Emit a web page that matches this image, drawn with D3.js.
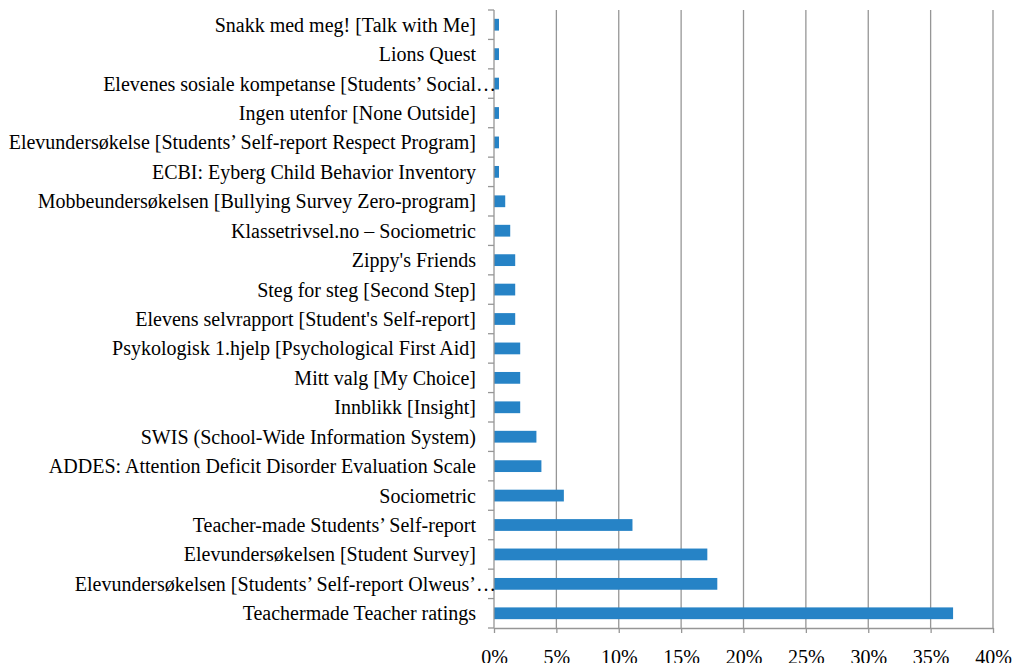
<!DOCTYPE html>
<html>
<head>
<meta charset="utf-8">
<script src="https://cdn.jsdelivr.net/npm/d3@7"></script>
<style>
  body { margin: 0; background: #fff; }
</style>
</head>
<body>
<script>
// categories, top to bottom as in the chart
const programs = [
  'Snakk med meg! [Talk with Me]',
  'Lions Quest',
  'Elevenes sosiale kompetanse [Students\u2019 Social\u2026',
  'Ingen utenfor [None Outside]',
  'Elevundersøkelse [Students\u2019 Self-report Respect Program]',
  'ECBI: Eyberg Child Behavior Inventory',
  'Mobbeundersøkelsen [Bullying Survey Zero-program]',
  'Klassetrivsel.no \u2013 Sociometric',
  "Zippy's Friends",
  'Steg for steg [Second Step]',
  "Elevens selvrapport [Student's Self-report]",
  'Psykologisk 1.hjelp [Psychological First Aid]',
  'Mitt valg [My Choice]',
  'Innblikk [Insight]',
  'SWIS (School-Wide Information System)',
  'ADDES: Attention Deficit Disorder Evaluation Scale',
  'Sociometric',
  'Teacher-made Students\u2019 Self-report',
  'Elevundersøkelsen [Student Survey]',
  'Elevundersøkelsen [Students\u2019 Self-report Olweus\u2019\u2026',
  'Teachermade Teacher ratings'
];
// share in percent
const shares = [0.4, 0.4, 0.4, 0.4, 0.4, 0.4, 0.9, 1.3, 1.7, 1.7, 1.7,
  2.1, 2.1, 2.1, 3.4, 3.8, 5.6, 11.1, 17.1, 17.9, 36.8];
const xticks = [0, 5, 10, 15, 20, 25, 30, 35, 40];

const data = programs.map((p, i) => ({name: p, value: shares[i]}));
const font = '"Liberation Serif", "Times New Roman", serif';

const margin = {top: 10, bottom: 35, left: 494, right: 25};
const width = 1018 - margin.left - margin.right;
const height = 663 - margin.top - margin.bottom;

const svg = d3.select('body').append('svg')
  .attr('width', 1018)
  .attr('height', 663);

const g = svg.append('g')
  .attr('transform', `translate(${margin.left},${margin.top})`);

const xscale = d3.scaleLinear().domain([0, 40]).range([0, width]);
const yscale = d3.scaleBand().domain(programs).range([0, height])
  .paddingInner(0.6).paddingOuter(0.3);

// vertical gridlines
g.append('g').selectAll('line').data(xticks.slice(1)).join('line')
  .attr('x1', (d) => xscale(d)).attr('x2', (d) => xscale(d))
  .attr('y1', 0).attr('y2', height)
  .attr('stroke', '#969696').attr('stroke-width', 1.3);

// bars
g.append('g').selectAll('rect').data(data).join('rect')
  .attr('x', 0)
  .attr('y', (d) => yscale(d.name))
  .attr('width', (d) => xscale(d.value))
  .attr('height', yscale.bandwidth())
  .attr('fill', '#2683c6');

// x axis
const xaxis = d3.axisBottom(xscale).tickValues(xticks)
  .tickFormat((d) => d + '%').tickSizeInner(5).tickSizeOuter(0).tickPadding(17);
const gx = g.append('g').attr('transform', `translate(0,${height})`).call(xaxis)
  .attr('font-family', font).attr('font-size', 20);
gx.select('.domain').attr('stroke', '#969696').attr('stroke-width', 1.3);
gx.selectAll('.tick line').attr('stroke', '#969696').attr('stroke-width', 1.3);
gx.selectAll('.tick text').attr('fill', '#000');

// y axis line and category boundary ticks
const gap = (yscale.step() - yscale.bandwidth()) / 2;
const bounds = programs.map((p) => yscale(p) - gap).concat([height]);
g.append('line').attr('x1', 0).attr('x2', 0).attr('y1', 0).attr('y2', height)
  .attr('stroke', '#969696').attr('stroke-width', 1.3);
g.append('g').selectAll('line').data(bounds).join('line')
  .attr('x1', -6).attr('x2', 0)
  .attr('y1', (d) => d).attr('y2', (d) => d)
  .attr('stroke', '#969696').attr('stroke-width', 1.3);

// category labels (truncated ones run up to the axis, as in the original)
g.append('g').selectAll('text').data(programs).join('text')
  .attr('x', (d) => d.endsWith('\u2026') ? 2 : -18)
  .attr('y', (d) => yscale(d) + yscale.bandwidth() / 2)
  .attr('dy', '0.35em')
  .attr('text-anchor', 'end')
  .attr('font-family', font)
  .attr('font-size', 20)
  .attr('fill', '#000')
  .text((d) => d);
</script>
</body>
</html>
